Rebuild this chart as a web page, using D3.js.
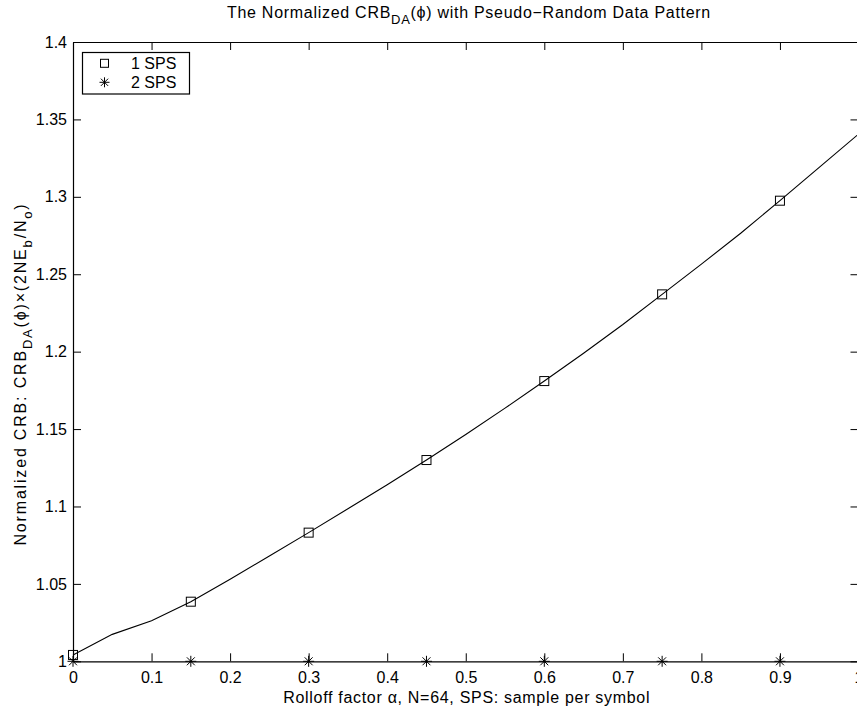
<!DOCTYPE html>
<html>
<head>
<meta charset="utf-8">
<script src="https://cdn.jsdelivr.net/npm/d3@7/dist/d3.min.js"></script>
<style>
  html, body { margin: 0; padding: 0; background: #fff; overflow: hidden; }
  svg { display: block; }
  text { font-family: "Liberation Sans", Arial, Helvetica, sans-serif; fill: #000; }
</style>
</head>
<body>
<script>
// Rolloff factor grid and normalized CRB for 1 sample per symbol
const alphaGrid = [0, 0.05, 0.1, 0.15, 0.2, 0.25, 0.3, 0.35, 0.4, 0.45, 0.5,
                   0.55, 0.6, 0.65, 0.7, 0.75, 0.8, 0.85, 0.9, 0.95, 1.0];
const crb1sps = [1.0041, 1.0174, 1.0262, 1.0385, 1.053, 1.068, 1.0831, 1.0985, 1.114, 1.130, 1.1465,
                 1.1635, 1.181, 1.199, 1.2175, 1.237, 1.2565, 1.2765, 1.2975, 1.319, 1.3405];

// Marker positions
const sps1Alpha = [0, 0.15, 0.3, 0.45, 0.6, 0.75, 0.9];
const sps2Alpha = [0, 0.15, 0.3, 0.45, 0.6, 0.75, 0.9];
const crb2sps = [1.0, 1.0, 1.0, 1.0, 1.0, 1.0, 1.0];

const xTicks = [0, 0.1, 0.2, 0.3, 0.4, 0.5, 0.6, 0.7, 0.8, 0.9, 1];
const yTicks = [1, 1.05, 1.1, 1.15, 1.2, 1.25, 1.3, 1.35, 1.4];
const legendLabels = ["1 SPS", "2 SPS"];

const W = 857, H = 708;
const plotL = 73, plotR = 858.5, plotT = 42, plotB = 661.3;

const svg = d3.select("body").append("svg").attr("width", W).attr("height", H);

const x = d3.scaleLinear().domain([0, 1]).range([plotL, plotR]);
const y = d3.scaleLinear().domain([1, 1.4]).range([plotB, plotT]);

const fmt = d => String(+d.toFixed(2));
const tickLen = 8;

// Axes with inward ticks on all four sides
svg.append("g").attr("transform", `translate(0,${plotB})`)
  .call(d3.axisBottom(x).tickValues(xTicks).tickFormat(fmt).tickSizeInner(-tickLen).tickSizeOuter(0).tickPadding(10.5));
svg.append("g").attr("transform", `translate(0,${plotT})`)
  .call(d3.axisTop(x).tickValues(xTicks).tickFormat("").tickSizeInner(-tickLen).tickSizeOuter(0));
svg.append("g").attr("transform", `translate(${plotL},0)`)
  .call(d3.axisLeft(y).tickValues(yTicks).tickFormat(fmt).tickSizeInner(-tickLen).tickSizeOuter(0).tickPadding(6));
svg.append("g").attr("transform", `translate(${plotR},0)`)
  .call(d3.axisRight(y).tickValues(yTicks).tickFormat("").tickSizeInner(-tickLen).tickSizeOuter(0));

svg.selectAll(".domain").attr("stroke", "#000").attr("stroke-width", 1.2);
svg.selectAll(".tick line").attr("stroke", "#000").attr("stroke-width", 1);
svg.selectAll(".tick text").attr("font-size", 16)
  .attr("font-family", "'Liberation Sans', Arial, Helvetica, sans-serif").attr("fill", "#000");

// Curve
const line = d3.line().x((d, i) => x(alphaGrid[i])).y(d => y(d));
svg.append("path").datum(crb1sps)
  .attr("d", line).attr("fill", "none").attr("stroke", "#000").attr("stroke-width", 1.1);

// Square markers (1 SPS)
const sq = 9;
const sps1Values = sps1Alpha.map(a => crb1sps[alphaGrid.findIndex(g => Math.abs(g - a) < 1e-9)]);
svg.append("g").selectAll("rect").data(sps1Alpha).join("rect")
  .attr("x", d => x(d) - sq / 2).attr("y", (d, i) => y(sps1Values[i]) - sq / 2)
  .attr("width", sq).attr("height", sq)
  .attr("fill", "none").attr("stroke", "#000").attr("stroke-width", 1);

// Asterisk markers (2 SPS)
function star(g, cx, cy, r) {
  const d = r * 0.72;
  g.append("path")
    .attr("d", `M${cx},${cy - r}L${cx},${cy + r}M${cx - r},${cy}L${cx + r},${cy}` +
               `M${cx - d},${cy - d}L${cx + d},${cy + d}M${cx - d},${cy + d}L${cx + d},${cy - d}`)
    .attr("stroke", "#000").attr("stroke-width", 1).attr("fill", "none");
}
const starG = svg.append("g");
sps2Alpha.forEach((a, i) => star(starG, x(a), y(crb2sps[i]), 5.5));

// Legend
const lg = svg.append("g");
lg.append("rect").attr("x", 82.5).attr("y", 52.5).attr("width", 107).attr("height", 41.5)
  .attr("fill", "#fff").attr("stroke", "#000").attr("stroke-width", 1.2);
lg.append("rect").attr("x", 104.5 - 4).attr("y", 63.3 - 4).attr("width", 8).attr("height", 8)
  .attr("fill", "none").attr("stroke", "#000").attr("stroke-width", 1);
star(lg, 104.5, 82.3, 5);
lg.selectAll("text.lab").data(legendLabels).join("text").attr("class", "lab")
  .attr("x", 131).attr("y", (d, i) => 68.5 + i * 19.3).attr("font-size", 16).text(d => d);

// Spread a label's glyphs so that it spans the given length
function spread(textSel, targetLen) {
  const node = textSel.node();
  const natural = node.getComputedTextLength();
  const n = node.textContent.length;
  if (n > 1 && targetLen > natural) textSel.attr("letter-spacing", (targetLen - natural) / n);
}

// Title
const title = svg.append("text").attr("x", 469).attr("y", 17.5)
  .attr("text-anchor", "middle").attr("font-size", 16);
title.append("tspan").text("The Normalized CRB");
title.append("tspan").attr("dy", 6).attr("font-size", 13).text("DA");
title.append("tspan").attr("dy", -6).text("(\u03D5) with Pseudo\u2212Random Data Pattern");
spread(title, 484);

// X label
const xl = svg.append("text").attr("x", 466.7).attr("y", 703).attr("text-anchor", "middle").attr("font-size", 16)
  .text("Rolloff factor \u03B1, N=64, SPS: sample per symbol");
spread(xl, 367);

// Y label
const yl = svg.append("text").attr("transform", "translate(25.5,374) rotate(-90)")
  .attr("text-anchor", "middle").attr("font-size", 16);
yl.append("tspan").text("Normalized CRB: CRB");
yl.append("tspan").attr("dy", 6).attr("font-size", 13).text("DA");
yl.append("tspan").attr("dy", -6).text("(\u03D5)\u00D7(2NE");
yl.append("tspan").attr("dy", 6).attr("font-size", 13).text("b");
yl.append("tspan").attr("dy", -6).text("/N");
yl.append("tspan").attr("dy", 6).attr("font-size", 13).text("o");
yl.append("tspan").attr("dy", -6).text(")");
spread(yl, 343);
</script>
</body>
</html>
